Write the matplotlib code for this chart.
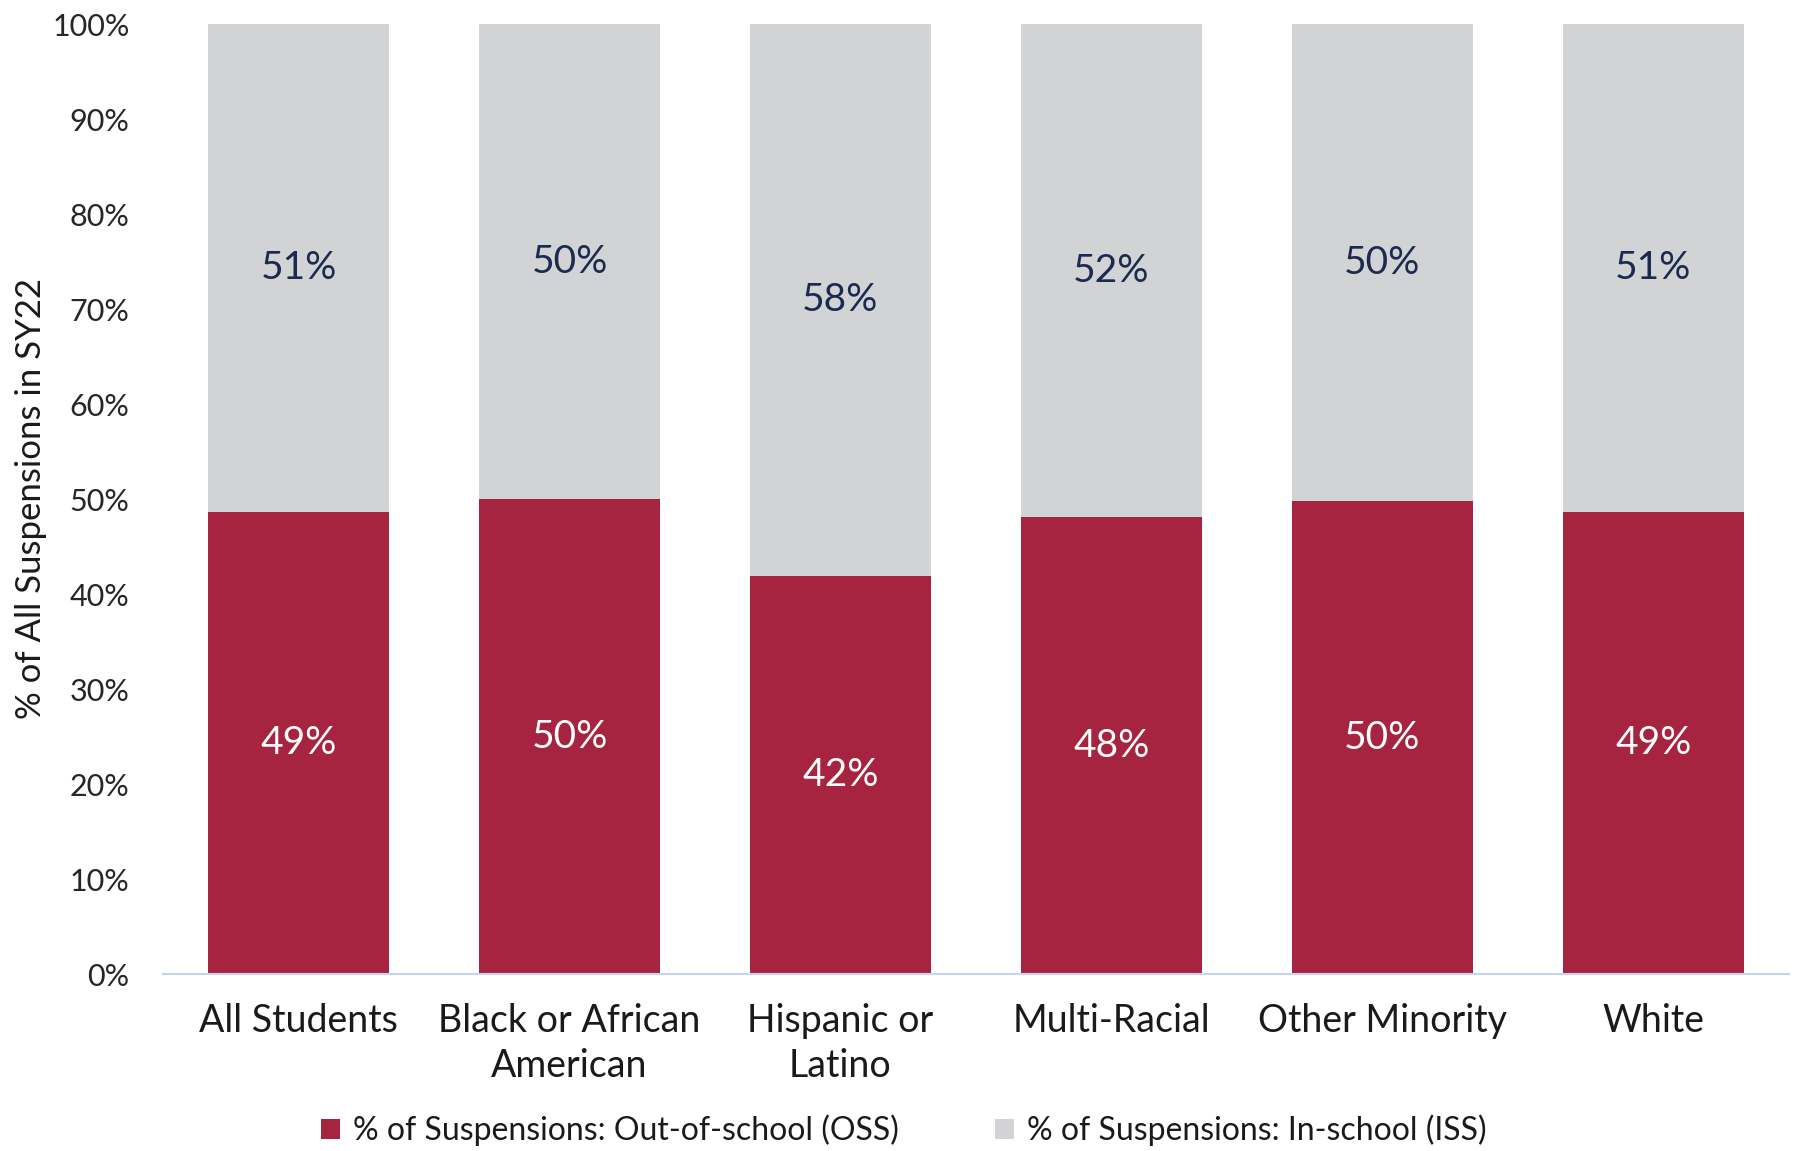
import matplotlib.pyplot as plt
from matplotlib.ticker import PercentFormatter

# data
groups = ['All Students', 'Black or African\nAmerican', 'Hispanic or\nLatino',
          'Multi-Racial', 'Other Minority', 'White']
oss = [48.65, 49.98, 41.9, 48.1, 49.8, 48.7]
iss = [51.35, 50.02, 58.1, 51.9, 50.2, 51.3]
oss_labels = ['49%', '50%', '42%', '48%', '50%', '49%']
iss_labels = ['51%', '50%', '58%', '52%', '50%', '51%']

plt.rcParams['font.family'] = ['Lato', 'DejaVu Sans']

red = '#A6243F'
grey = '#D1D3D5'

fig = plt.figure(figsize=(17.97, 11.51), dpi=100)
ax = fig.add_axes([0.0907, 0.1535, 0.9048, 0.8255])

x = range(len(groups))
b1 = ax.bar(x, oss, width=0.668, color=red, label='% of Suspensions: Out-of-school (OSS)')
b2 = ax.bar(x, iss, width=0.668, bottom=oss, color=grey, label='% of Suspensions: In-school (ISS)')

for i in x:
    ax.text(i, oss[i] / 2, oss_labels[i], ha='center', va='center', fontsize=28, color='white')
    ax.text(i, oss[i] + iss[i] / 2, iss_labels[i], ha='center', va='center', fontsize=28, color='#1B2A4E')

ax.set_xlim(-0.5, len(groups) - 0.5)
ax.set_ylim(0, 100)
ax.set_yticks(range(0, 101, 10))
ax.yaxis.set_major_formatter(PercentFormatter(decimals=0))
ax.set_xticks(list(x))
ax.set_xticklabels(groups, fontsize=27, color='#1a1a1a', linespacing=1.3)
ax.tick_params(axis='y', labelsize=22, labelcolor='#262626', length=0, pad=24)
ax.tick_params(axis='x', length=0, pad=21)

for s in ['top', 'right', 'left']:
    ax.spines[s].set_visible(False)
ax.spines['bottom'].set_color('#C5D5F0')
ax.spines['bottom'].set_linewidth(1.5)

fig.text(0.0175, 0.567, '% of All Suspensions in SY22', rotation=90, ha='center', va='center',
         fontsize=25, color='#1a1a1a')

fig.legend(handles=[b1, b2], loc='center', bbox_to_anchor=(0.503, 0.018), ncol=2,
           frameon=False, fontsize=23, handlelength=0.6, handleheight=0.6,
           handletextpad=0.4, columnspacing=3.0, labelcolor='#1a1a1a')

plt.savefig('out.png', dpi=100)
